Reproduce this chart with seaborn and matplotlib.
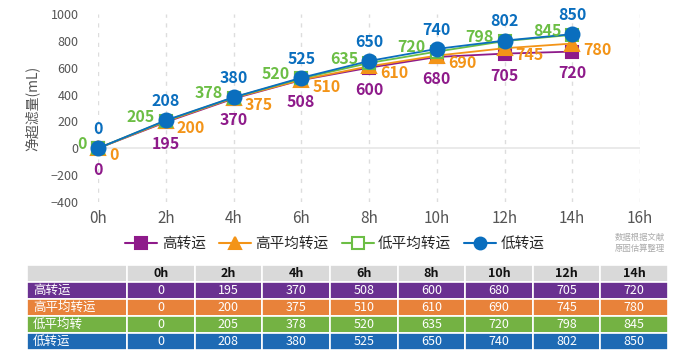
import numpy as np
import pandas as pd
import matplotlib
matplotlib.use("Agg")
import matplotlib.pyplot as plt
import seaborn as sns
from matplotlib.lines import Line2D

hours = [0, 2, 4, 6, 8, 10, 12, 14]
hour_labels = ["0h", "2h", "4h", "6h", "8h", "10h", "12h", "14h"]
high = [0, 195, 370, 508, 600, 680, 705, 720]
high_avg = [0, 200, 375, 510, 610, 690, 745, 780]
low_avg = [0, 205, 378, 520, 635, 720, 798, 845]
low = [0, 208, 380, 525, 650, 740, 802, 850]

names = ["高转运", "高平均转运", "低平均转运", "低转运"]
table_names = ["高转运", "高平均转运", "低平均转", "低转运"]

sns.set_style("white")
plt.rcParams['font.family'] = ['Noto Sans CJK SC', 'DejaVu Sans']

line_cols = ["#8E1A8A", "#F39418", "#6CBE45", "#0A6EBE"]
table_cols = ["#6A3191", "#E8823A", "#74B243", "#1E6AB4"]
markers = ["s", "^", "s", "o"]
faces = ["#8E1A8A", "#F39418", "white", "#0A6EBE"]
msize = [9, 9.5, 9, 10]
# label offsets in points (dx, dy, ha, va)
offs = [(0, -10, "center", "top"), (8, -5, "left", "center"),
        (-8, 3, "right", "center"), (0, 8, "center", "bottom")]

series = [high, high_avg, low_avg, low]
df = pd.DataFrame({"hour": hours * 4,
                   "value": high + high_avg + low_avg + low,
                   "group": sum([[n] * len(hours) for n in names], [])})

fig = plt.figure(figsize=(6.91, 3.56), dpi=100)
ax = fig.add_axes([98 / 691, 1 - 202 / 356, 542 / 691, 188 / 356])

for i, n in enumerate(names):
    sub = df[df.group == n]
    sns.lineplot(data=sub, x="hour", y="value", ax=ax, color=line_cols[i],
                 marker=markers[i], markersize=msize[i],
                 markerfacecolor=faces[i], markeredgecolor=line_cols[i],
                 markeredgewidth=1.5, linewidth=1.3, clip_on=False, zorder=3 + i)
    for x, y in zip(sub.hour, sub.value):
        dx, dy, ha, va = offs[i]
        ax.annotate(str(y), (x, y), xytext=(dx, dy), textcoords="offset points",
                    ha=ha, va=va, color=line_cols[i], fontsize=11.5,
                    fontweight="bold", zorder=10)

ax.set_xlim(0, 16)
ax.set_ylim(-400, 1000)
ax.set_xticks(range(0, 17, 2))
ax.set_xticklabels([f"{h}h" for h in range(0, 17, 2)])
ax.set_yticks(range(-400, 1001, 200))
ax.tick_params(axis="x", labelsize=11, colors="#555555", length=0, pad=6)
ax.tick_params(axis="y", labelsize=9, colors="#555555", length=0, pad=14)
ax.set_xlabel("")
ax.set_ylabel("净超滤量(mL)", fontsize=10, color="#555555", labelpad=8)
ax.grid(axis="x", linestyle=(0, (3, 4)), color="#dddddd", linewidth=1)
ax.axhline(0, color="#e6e6e6", linewidth=1.2, zorder=1)
for s in ax.spines.values():
    s.set_visible(False)

handles = [Line2D([], [], color=line_cols[i], marker=markers[i], markersize=8.5,
                  markerfacecolor=faces[i], markeredgecolor=line_cols[i],
                  markeredgewidth=1.5, linewidth=1.5) for i in range(4)]
fig.legend(handles, names, loc="center", bbox_to_anchor=(335 / 691, 1 - 244 / 356),
           ncol=4, frameon=False, fontsize=10.5, handlelength=2.2,
           columnspacing=0.9, handletextpad=0.3)

fig.text(640 / 691, 1 - 243 / 356, "数据根据文献\n原图估算整理", fontsize=6,
         color="#aaaaaa", ha="center", va="center", linespacing=1.3)

# table
tax = fig.add_axes([27 / 691, 1 - 350 / 356, 641 / 691, 85 / 356])
tax.axis("off")
cell_text = [[""] + hour_labels] + [[table_names[i]] + [str(v) for v in series[i]] for i in range(4)]
tbl = tax.table(cellText=cell_text, bbox=[0, 0, 1, 1], cellLoc="center",
                colWidths=[100 / 641] + [67.6 / 641] * 8)
tbl.auto_set_font_size(False)
for (r, c), cell in tbl.get_celld().items():
    cell.set_edgecolor("white")
    cell.set_linewidth(1.2)
    if r == 0:
        cell.set_facecolor("#d9d9d9")
        cell.get_text().set_color("#111111")
        cell.get_text().set_fontweight("bold")
        cell.get_text().set_fontsize(9)
    else:
        cell.set_facecolor(table_cols[r - 1])
        cell.get_text().set_color("white")
        cell.get_text().set_fontsize(9)
        if c == 0:
            cell.get_text().set_ha("left")
            cell._loc = "left"
            cell.PAD = 0.06

fig.savefig("out.png", dpi=100)
